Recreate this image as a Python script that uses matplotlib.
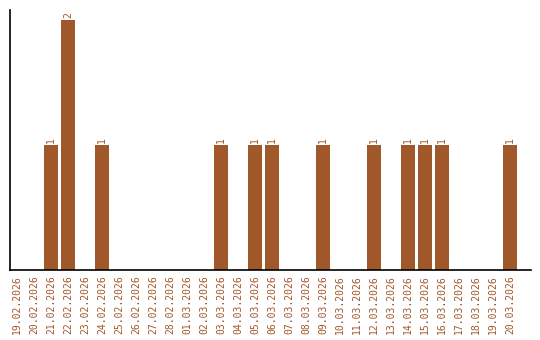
import matplotlib
matplotlib.use("Agg")
import matplotlib.pyplot as plt
import numpy as np

# Daily counts
dates = ['19.02.2026', '20.02.2026', '21.02.2026', '22.02.2026', '23.02.2026',
         '24.02.2026', '25.02.2026', '26.02.2026', '27.02.2026', '28.02.2026',
         '01.03.2026', '02.03.2026', '03.03.2026', '04.03.2026', '05.03.2026',
         '06.03.2026', '07.03.2026', '08.03.2026', '09.03.2026', '10.03.2026',
         '11.03.2026', '12.03.2026', '13.03.2026', '14.03.2026', '15.03.2026',
         '16.03.2026', '17.03.2026', '18.03.2026', '19.03.2026', '20.03.2026']
counts = [0, 0, 1, 2, 0, 1, 0, 0, 0, 0, 0, 0, 1, 0, 1,
          1, 0, 0, 1, 0, 0, 1, 0, 1, 1, 1, 0, 0, 0, 1]

color = '#A0572A'

fig = plt.figure(figsize=(5.4, 3.4), dpi=100)
ax = fig.add_axes([10 / 540, 70 / 340, 521 / 540, 260 / 340])

x = np.arange(len(dates))
bars = ax.bar(x, counts, width=0.82, color=color)

# value labels above non-empty bars
for xi, c in zip(x, counts):
    if c > 0:
        ax.text(xi, c + 0.02, str(c), rotation=90, ha='center', va='bottom',
                color=color, fontsize=7, family='DejaVu Sans Mono')

ax.set_xlim(-0.41, 30.24)
ax.set_ylim(0, 2.08)
ax.set_xticks(x)
ax.set_xticklabels(dates, rotation=90, color=color, fontsize=7,
                   family='DejaVu Sans Mono')
ax.tick_params(axis='x', length=0, pad=4)
ax.set_yticks([])

for s in ['top', 'right']:
    ax.spines[s].set_visible(False)
ax.spines['left'].set_linewidth(1.2)
ax.spines['bottom'].set_linewidth(1.2)

fig.savefig('out.png', dpi=100)
